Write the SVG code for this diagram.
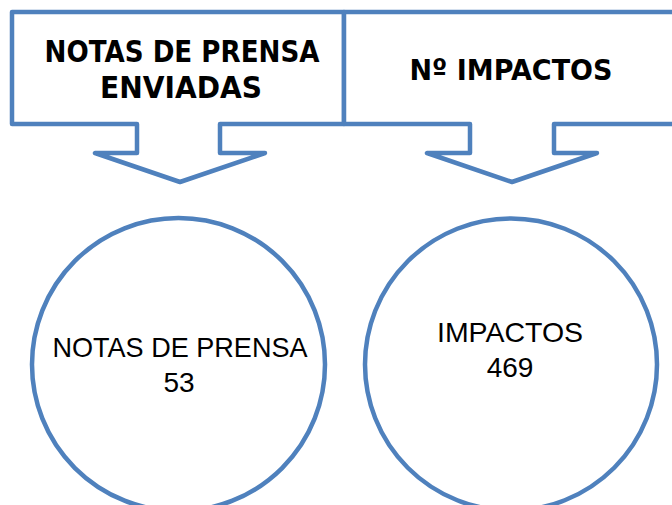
<svg xmlns="http://www.w3.org/2000/svg" width="672" height="505" viewBox="0 0 672 505">
<style>
.shape{fill:#fff;stroke:#4F81BD;stroke-width:4.5;stroke-linejoin:round}
.hd{font-family:"DejaVu Sans","Liberation Sans",sans-serif;font-weight:bold;fill:#000;text-anchor:middle}
.bd{font-family:"Liberation Sans",Arial,sans-serif;fill:#000;text-anchor:middle}
</style>
<rect width="672" height="505" fill="#fff"/>
<g id="callout-notas">
<path class="shape" d="M12,12 H344 V124 H220 V153 H265 L180,182 L95,153 H137 V124 H12 Z"/>
<text class="hd" x="182" y="62" font-size="30" textLength="275" lengthAdjust="spacingAndGlyphs">NOTAS DE PRENSA</text>
<text class="hd" x="181" y="98" font-size="30" textLength="162" lengthAdjust="spacingAndGlyphs">ENVIADAS</text>
</g>
<g id="callout-impactos">
<path class="shape" d="M344,12 H690 V124 H554 V153 H597 L512,182 L427,153 H470 V124 H344 Z"/>
<text class="hd" x="511" y="80" font-size="29" textLength="203" lengthAdjust="spacingAndGlyphs">Nº IMPACTOS</text>
</g>
<g id="circle-notas">
<circle class="shape" cx="178.5" cy="364.5" r="146.5"/>
<text class="bd" x="180" y="357" font-size="28" textLength="255" lengthAdjust="spacingAndGlyphs">NOTAS DE PRENSA</text>
<text class="bd" x="179" y="392" font-size="28">53</text>
</g>
<g id="circle-impactos">
<circle class="shape" cx="511" cy="364.5" r="146"/>
<text class="bd" x="510" y="342" font-size="28" textLength="146" lengthAdjust="spacingAndGlyphs">IMPACTOS</text>
<text class="bd" x="510" y="377" font-size="28">469</text>
</g>
<g id="connectors"></g>
</svg>
